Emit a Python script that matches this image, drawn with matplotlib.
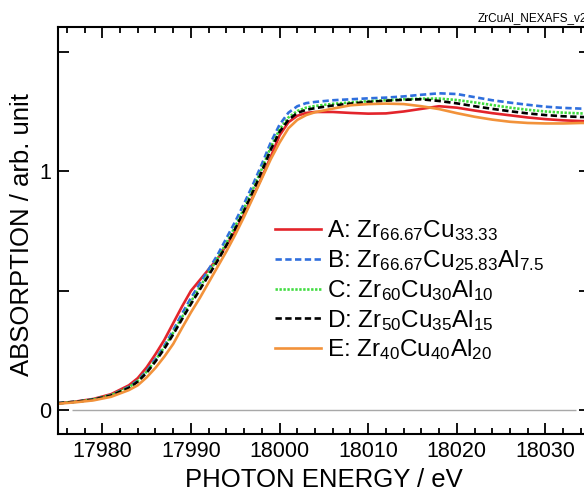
import matplotlib
matplotlib.use('Agg')
from matplotlib import pyplot as plt
from matplotlib.ticker import MultipleLocator, FixedLocator

plt.rcParams['font.family'] = ['Liberation Sans', 'DejaVu Sans']
plt.rcParams['mathtext.fontset'] = 'custom'
plt.rcParams['mathtext.rm'] = 'Liberation Sans'
plt.rcParams['mathtext.it'] = 'Liberation Sans:italic'

# photon energy grid (eV)
energy = [17975, 17977, 17979, 17981, 17983, 17984, 17985, 17986, 17987, 17988,
          17989, 17990, 17991, 17992, 17993, 17994, 17995, 17996, 17997, 17998,
          17999, 18000, 18001, 18002, 18003, 18004, 18006, 18008, 18010, 18012,
          18014, 18016, 18018, 18020, 18022, 18024, 18026, 18028, 18030, 18032,
          18034, 18035]

abs_a = [0.030, 0.037, 0.048, 0.068, 0.105, 0.135, 0.180, 0.235, 0.295, 0.365,
         0.435, 0.500, 0.545, 0.590, 0.635, 0.690, 0.750, 0.820, 0.895, 0.975,
         1.060, 1.150, 1.205, 1.232, 1.244, 1.248, 1.248, 1.244, 1.241, 1.242,
         1.250, 1.261, 1.272, 1.266, 1.254, 1.243, 1.234, 1.225, 1.218, 1.213,
         1.210, 1.209]
abs_b = [0.030, 0.036, 0.046, 0.064, 0.098, 0.125, 0.165, 0.215, 0.270, 0.335,
         0.405, 0.470, 0.530, 0.590, 0.650, 0.720, 0.790, 0.865, 0.945, 1.030,
         1.120, 1.195, 1.245, 1.272, 1.285, 1.290, 1.297, 1.301, 1.305, 1.308,
         1.313, 1.320, 1.326, 1.323, 1.310, 1.297, 1.287, 1.278, 1.270, 1.265,
         1.262, 1.261]
abs_c = [0.030, 0.036, 0.046, 0.064, 0.097, 0.123, 0.162, 0.210, 0.265, 0.325,
         0.390, 0.455, 0.515, 0.575, 0.635, 0.700, 0.770, 0.845, 0.925, 1.010,
         1.100, 1.175, 1.225, 1.252, 1.266, 1.273, 1.282, 1.288, 1.293, 1.297,
         1.301, 1.304, 1.304, 1.298, 1.288, 1.277, 1.266, 1.257, 1.250, 1.245,
         1.242, 1.241]
abs_d = [0.030, 0.036, 0.045, 0.062, 0.094, 0.120, 0.157, 0.205, 0.258, 0.318,
         0.382, 0.445, 0.505, 0.565, 0.625, 0.690, 0.760, 0.835, 0.915, 1.000,
         1.090, 1.165, 1.215, 1.244, 1.257, 1.264, 1.275, 1.283, 1.290, 1.295,
         1.299, 1.301, 1.294, 1.284, 1.272, 1.261, 1.251, 1.242, 1.235, 1.230,
         1.227, 1.226]
abs_e = [0.028, 0.034, 0.042, 0.057, 0.085, 0.105, 0.138, 0.178, 0.225, 0.278,
         0.345, 0.410, 0.470, 0.535, 0.600, 0.665, 0.735, 0.810, 0.890, 0.970,
         1.050, 1.120, 1.180, 1.215, 1.235, 1.247, 1.262, 1.276, 1.281, 1.283,
         1.281, 1.272, 1.260, 1.243, 1.228, 1.216, 1.207, 1.202, 1.200, 1.200,
         1.202, 1.202]

labels = ['A: Zr$_{66.67}$Cu$_{33.33}$',
          'B: Zr$_{66.67}$Cu$_{25.83}$Al$_{7.5}$',
          'C: Zr$_{60}$Cu$_{30}$Al$_{10}$',
          'D: Zr$_{50}$Cu$_{35}$Al$_{15}$',
          'E: Zr$_{40}$Cu$_{40}$Al$_{20}$']

baseline_range = [17976.6, 18033.4]

fig = plt.figure(figsize=(5.84, 4.88), dpi=100)
ax = fig.add_axes([0.0993, 0.110, 0.9106, 0.835])

ax.hlines(0, baseline_range[0], baseline_range[1], color='#a8a8a8', lw=1.0, zorder=1)

lw = 1.9
ax.plot(energy, abs_a, color='#e3242b', lw=lw, label=labels[0])
ax.plot(energy, abs_b, color='#2f6fdd', lw=lw, dashes=(2.4, 1.3), label=labels[1])
ax.plot(energy, abs_c, color='#3fdc3f', lw=lw, dashes=(0.9, 0.6), label=labels[2])
ax.plot(energy, abs_d, color='black', lw=lw, dashes=(2.4, 1.3), label=labels[3])
ax.plot(energy, abs_e, color='#f2923a', lw=lw, label=labels[4])

ax.set_xlim(17975, 18035)
ax.set_ylim(-0.1, 1.604)

ax.xaxis.set_major_locator(MultipleLocator(10))
ax.xaxis.set_minor_locator(MultipleLocator(2))
ax.yaxis.set_major_locator(FixedLocator([0, 1]))
ax.yaxis.set_minor_locator(FixedLocator([0.5, 1.5]))

ax.tick_params(which='both', direction='in', top=True, right=True,
               width=1.3, labelsize=15.5, pad=5)
ax.tick_params(axis='x', which='major', length=8)
ax.tick_params(axis='x', which='minor', length=4)
ax.tick_params(axis='y', which='both', length=8)
for s in ax.spines.values():
    s.set_linewidth(1.5)

ax.set_xlabel('PHOTON ENERGY / eV', fontsize=18.5)
ax.set_ylabel('ABSORPTION / arb. unit', fontsize=18.5)
ax.xaxis.set_label_coords(0.5, -0.082)
ax.yaxis.set_label_coords(-0.045, 0.49)

ax.legend(loc='center left', bbox_to_anchor=(0.408, 0.353), frameon=False,
          fontsize=17.5, handlelength=1.9, handletextpad=0.25,
          labelspacing=0.2, borderpad=0, borderaxespad=0)

fig.text(0.817, 0.962, 'ZrCuAl_NEXAFS_v2', fontsize=8.5, va='center', ha='left')

fig.savefig('out.png', dpi=100)
